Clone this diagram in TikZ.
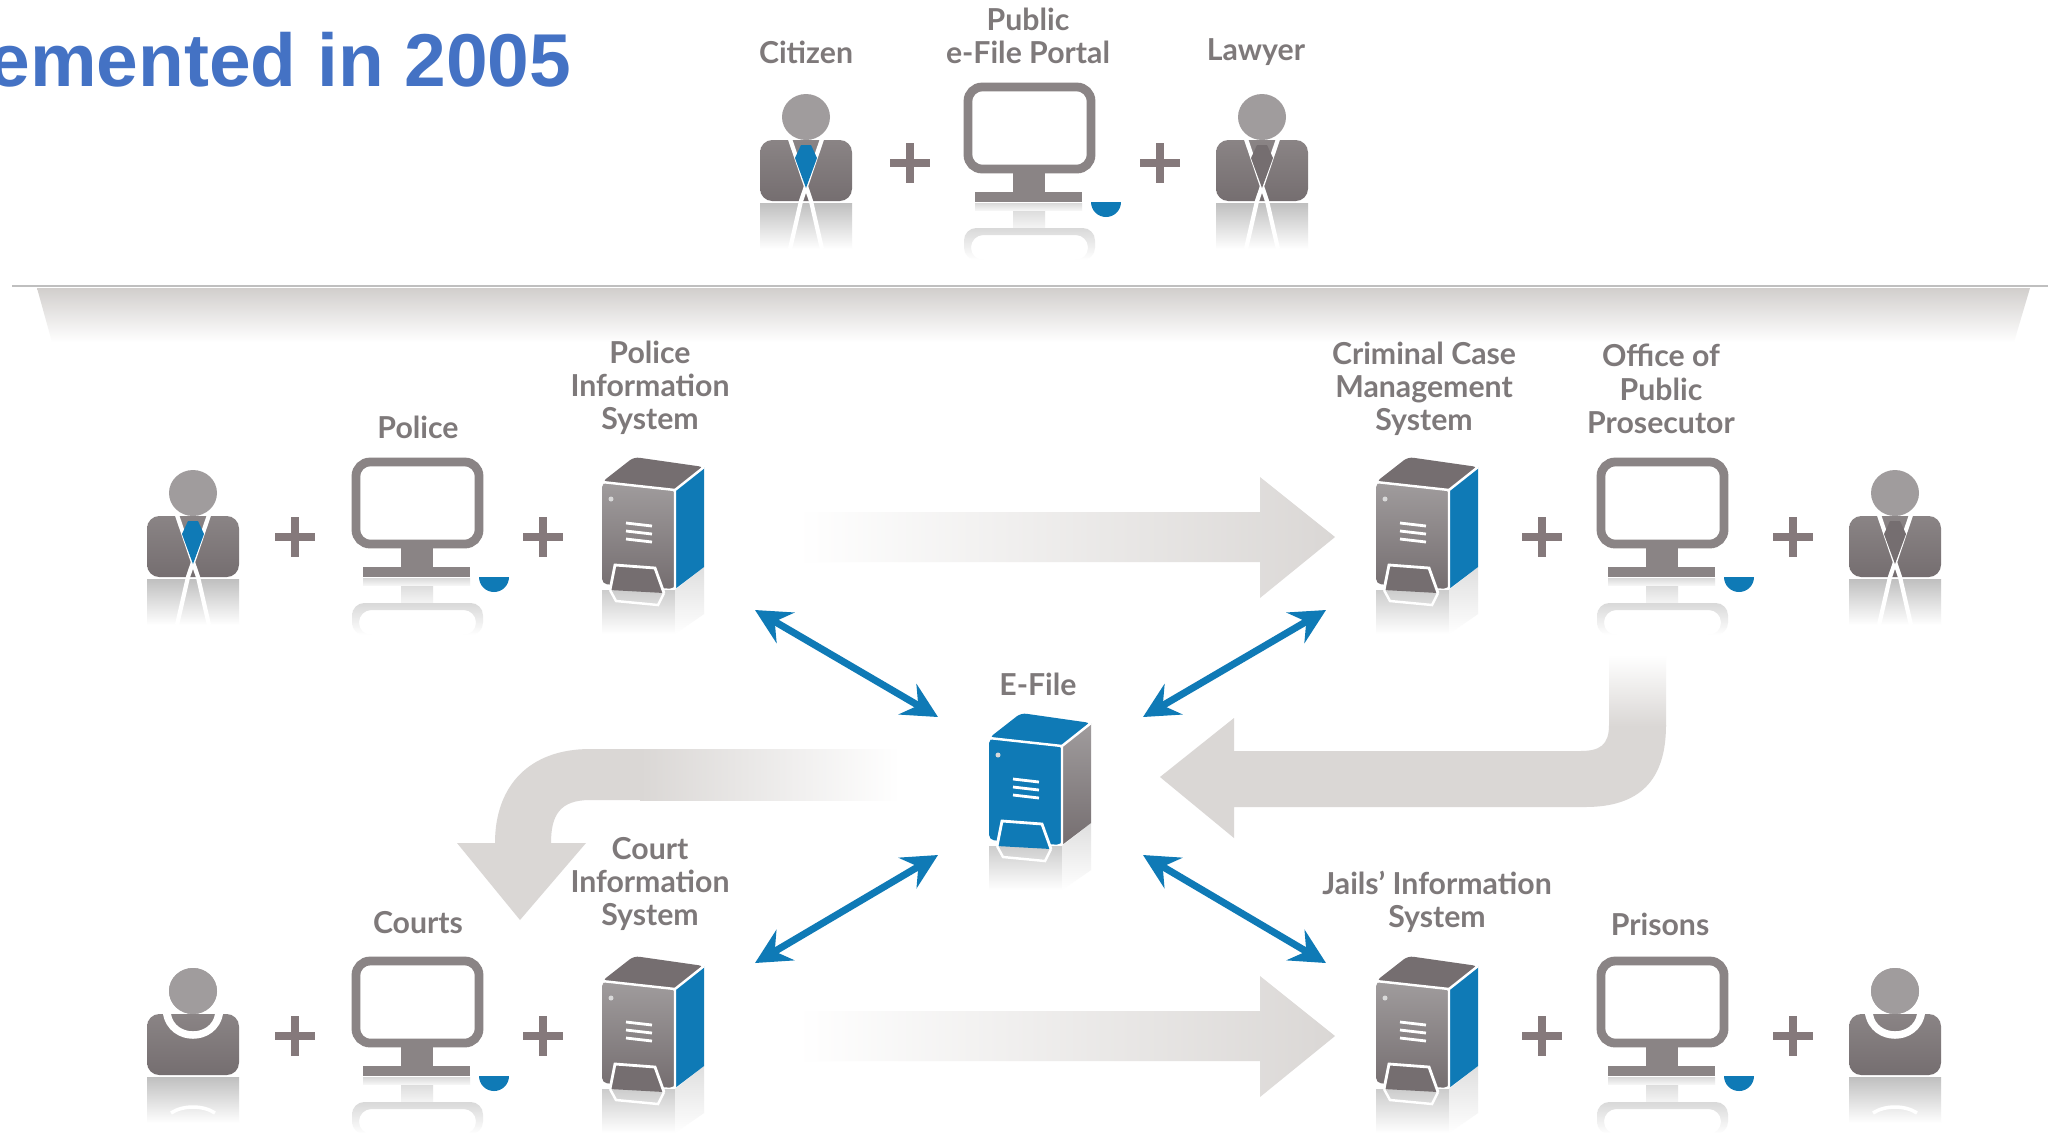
\documentclass[tikz,border=0pt]{standalone}
\usepackage{fontspec}
\setmainfont{Lato}
\newfontfamily\titlefont{Liberation Sans}
\usetikzlibrary{arrows.meta}
\definecolor{lab}{HTML}{7E797A}
\definecolor{gA}{HTML}{A09C9D}
\definecolor{gB}{HTML}{8A8485}
\definecolor{gC}{HTML}{756E70}
\definecolor{bl}{HTML}{0F7AB6}
\definecolor{ga}{HTML}{DAD7D5}
\definecolor{plusc}{HTML}{85797B}
\definecolor{ttl}{HTML}{4472C4}
\tikzset{
  lbl/.style={text=lab,font=\fontsize{8.6}{9.45}\selectfont\bfseries,align=center,inner sep=0pt},
  plusnode/.style={text=plusc,inner sep=0pt,minimum size=0pt},
  twoway/.style={draw=bl,line width=2pt,{Stealth[length=10pt,width=10pt,inset=3.5pt]}-{Stealth[length=10pt,width=10pt,inset=3.5pt]},shorten >=0pt,shorten <=0pt},
  grayarrow/.style={left color=white,right color=ga,draw=none}
}
% person: centre x, body bottom y, tie colour
\newcommand{\personbase}[2]{%
  \shade[top color=gray!50!white,bottom color=white] (#1-46,#2+2) rectangle (#1+46,#2+48);
  \shade[top color=gB,bottom color=gC,rounded corners=3.5pt] (#1-46,#2-61) rectangle (#1+46,#2);
  \fill[gA] (#1,#2-84) ellipse [x radius=24,y radius=23];
}
\newcommand{\suit}[3]{%
  \personbase{#1}{#2}
  \draw[white,line width=1.2pt] (#1-16,#2-62) -- (#1+5,#2) -- (#1+16,#2+48);
  \draw[white,line width=1.2pt] (#1+16,#2-62) -- (#1-5,#2) -- (#1-16,#2+48);
  \fill[#3] (#1-5,#2-56) -- (#1+5,#2-56) -- (#1+11,#2-43) -- (#1,#2-13) -- (#1-11,#2-43) -- cycle;
}
\newcommand{\robed}[2]{%
  \personbase{#1}{#2}
  \fill[white] (#1-30,#2-61) .. controls (#1-24,#2-28) and (#1+24,#2-28) .. (#1+30,#2-61) -- (#1+22,#2-61) .. controls (#1+18,#2-38) and (#1-18,#2-38) .. (#1-22,#2-61) -- cycle;
  \fill[gA] (#1,#2-84) ellipse [x radius=24,y radius=23];
  \draw[white,line width=1pt] (#1-22,#2+38) .. controls (#1-10,#2+30) and (#1+10,#2+30) .. (#1+22,#2+38);
}
% monitor: left x, base bottom y
\newcommand{\monitor}[2]{%
  \shade[top color=gray!35!white,bottom color=white!92!gray] (#1+49,#2+1) rectangle (#1+81,#2+26);
  \shade[top color=gray!30!white,bottom color=white!92!gray] (#1+11,#2+1) rectangle (#1+118,#2+8);
  \shade[even odd rule,top color=gray!30!white,bottom color=white,rounded corners=3.5pt] (#1,#2+58) -- (#1,#2+26) -- (#1+131,#2+26) -- (#1+131,#2+58) -- cycle (#1+7,#2+58) -- (#1+7,#2+33) -- (#1+124,#2+33) -- (#1+124,#2+58) -- cycle;
  \fill[white] (#1,#2+48) rectangle (#1+0,#2+48);
  \fill[gB] (#1+49,#2-34) rectangle (#1+81,#2-10);
  \fill[gB] (#1+11,#2-10) rectangle (#1+118,#2);
  \draw[gB,fill=white,line width=2.5pt,rounded corners=4pt] (#1+4,#2-115) rectangle (#1+127,#2-33);
  \fill[bl] (#1+127,#2) arc[start angle=180,end angle=0,x radius=15,y radius=15] -- cycle;
}
% server: left x, front bottom y, front/top colours, side colours
\newcommand{\server}[6]{%
  \shade[top color=gray!40!white,bottom color=white] (#1,#2+1) rectangle (#1+73,#2+45);
  \shade[top color=gray!25!white,bottom color=white] (#1+73,#2+1) -- (#1+73,#2+45) -- (#1+102,#2+25) -- (#1+102,#2-22) -- cycle;
  \shade[top color=#3,bottom color=#4,rounded corners=1.5pt] (#1,#2-107) -- (#1+73,#2-99) -- (#1+73,#2) -- (#1,#2-5) -- cycle;
  \fill[#4,rounded corners=1.5pt] (#1,#2-107) -- (#1+32,#2-132) -- (#1+102,#2-122) -- (#1+73,#2-99) -- cycle;
  \shade[top color=#5,bottom color=#6] (#1+73,#2-99) -- (#1+102,#2-122) -- (#1+102,#2-22) -- (#1+73,#2) -- cycle;
  \draw[white,line width=0.7pt] (#1,#2-107) -- (#1+73,#2-99) -- (#1+102,#2-122) (#1+73,#2-99) -- (#1+73,#2);
  \fill[white!70!gray] (#1+9,#2-90) circle (2.5);
  \draw[white,line width=0.8pt] (#1+24,#2-66) -- (#1+50,#2-63) (#1+24,#2-58) -- (#1+50,#2-55) (#1+24,#2-50) -- (#1+50,#2-47);
  \draw[white,line width=0.8pt,fill=#4] (#1+8,#2+1) -- (#1+13,#2-24) -- (#1+53,#2-21) -- (#1+62,#2+4);
  \draw[white,line width=0.7pt] (#1+8,#2+1) -- (#1+14,#2+12) -- (#1+56,#2+16) -- (#1+62,#2+4);
}
\begin{document}
\begin{tikzpicture}[x=0.01cm,y=-0.01cm]
\useasboundingbox (0,0) rectangle (2048,1132);
\clip (0,0) rectangle (2048,1132);
\fill[white] (0,0) rectangle (2048,1132);

% title
\node[anchor=base east,inner sep=0pt,text=ttl,font=\titlefont\bfseries\fontsize{21.3}{24}\selectfont] (title) at (572,86) {emented in 2005};

% divider
\draw[line width=0.7pt,draw=gray!50!white] (12,286) -- (2048,286);
\shade[top color=black!4!ga,bottom color=white] (37,288) -- (2030,288) -- (2014,342) -- (52,342) -- cycle;

% gray flow arrows
\shade[grayarrow] (797,512) -- (1260,512) -- (1260,477) -- (1335,537) -- (1260,598) -- (1260,562) -- (797,562) -- cycle;
\shade[grayarrow] (797,1011) -- (1260,1011) -- (1260,976) -- (1335,1036) -- (1260,1097) -- (1260,1061) -- (797,1061) -- cycle;

% right bent arrow
\fill[ga] (1160,777) -- (1234,718) -- (1234,751) -- (1580,751) .. controls (1600,751) and (1609,745) .. (1609,725) -- (1666,725) .. controls (1666,780) and (1640,807) .. (1585,807) -- (1234,807) -- (1234,838) -- cycle;
\shade[top color=white,bottom color=ga] (1609,655) rectangle (1666,726);

% left bent arrow
\shade[left color=ga,right color=white] (640,749) rectangle (900,800);
\fill[ga] (641,749) -- (641,800) -- (590,800) .. controls (560,800) and (551,815) .. (551,843) -- (586,843) -- (520,920) -- (457,843) -- (495,843) .. controls (495,785) and (530,749) .. (590,749) -- cycle;

% icons, top row
\suit{806}{201}{bl}
\monitor{964}{202}
\suit{1262}{201}{gC}
% second row
\suit{193}{577}{bl}
\monitor{352}{577}
\server{602}{589}{gA}{gC}{bl}{bl}
\server{1376}{589}{gA}{gC}{bl}{bl}
\monitor{1597}{577}
\suit{1895}{577}{gC}
% e-file
\server{989}{845}{bl}{bl}{gA}{gC}
% bottom row
\robed{193}{1075}
\monitor{352}{1076}
\server{602}{1088}{gA}{gC}{bl}{bl}
\server{1376}{1088}{gA}{gC}{bl}{bl}
\monitor{1597}{1076}
\robed{1895}{1075}

% plus signs
\foreach \nm/\px/\py in {p1/910/163,p2/1160/163,p3/295/537,p4/543/537,p5/1542/537,p6/1793/537,p7/295/1036,p8/543/1036,p9/1542/1036,p10/1793/1036}{
  \fill[plusc] (\px-20,\py-4) rectangle (\px+20,\py+4);
  \fill[plusc] (\px-4,\py-20) rectangle (\px+4,\py+20);
}

% labels
\node[lbl] (citizen) at (806,52) {Citizen};
\node[lbl] (portal) at (1028,36) {Public\\e-File Portal};
\node[lbl] (lawyer) at (1256,52) {Lawyer};
\node[lbl] (police) at (418,427) {Police};
\node[lbl] (pis) at (650,388) {Police\\Information\\System};
\node[lbl] (ccms) at (1424,389) {Criminal Case\\Management\\System};
\node[lbl] (opp) at (1661,389) {Office of\\Public\\Prosecutor};
\node[lbl] (efile) at (1038,684) {E-File};
\node[lbl] (courts) at (418,923) {Courts};
\node[lbl] (cis) at (650,884) {Court\\Information\\System};
\node[lbl] (jis) at (1437,902) {Jails' Information\\System};
\node[lbl] (prisons) at (1660,924) {Prisons};

% two-way links around E-File
\coordinate (hubNW) at (938,717);
\coordinate (hubNE) at (1143,717);
\coordinate (hubSW) at (938,855);
\coordinate (hubSE) at (1143,855);
\coordinate (policeEnd) at (755,610);
\coordinate (caseEnd) at (1326,610);
\coordinate (courtEnd) at (755,963);
\coordinate (jailEnd) at (1326,963);
\draw[twoway] (policeEnd) -- (hubNW);
\draw[twoway] (caseEnd) -- (hubNE);
\draw[twoway] (courtEnd) -- (hubSW);
\draw[twoway] (jailEnd) -- (hubSE);
\end{tikzpicture}
\end{document}
